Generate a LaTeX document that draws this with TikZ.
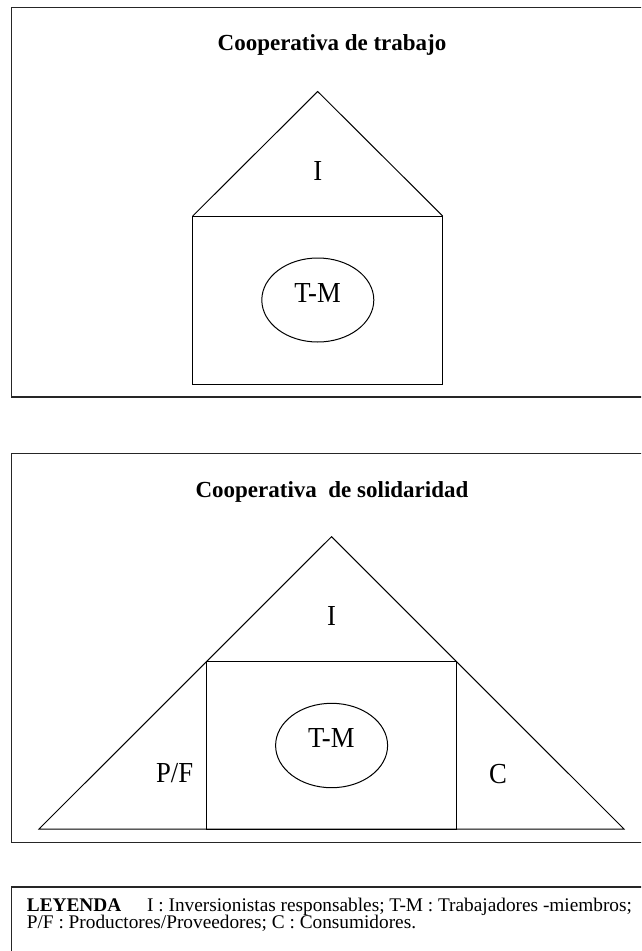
\documentclass[tikz,border=0pt]{standalone}
\usepackage{fontspec}
\setmainfont{Liberation Serif}
\usetikzlibrary{shapes.geometric}
\newcommand{\lbltext}[1]{\scalebox{0.92}[1]{#1}}
\begin{document}
\begin{tikzpicture}[x=1pt,y=-1pt,
  frame/.style={draw=black!85,line width=1.4pt},
  outline/.style={draw=black,line width=1pt,line join=miter},
  ttl/.style={font=\fontsize{23}{27}\selectfont\bfseries,anchor=base,inner sep=0pt},
  lbl/.style={font=\fontsize{29}{33}\selectfont,anchor=base,inner sep=0pt},
  leg/.style={font=\fontsize{19.3}{22}\selectfont,anchor=base west,inner sep=0pt},
  oval/.style={ellipse,draw=black,line width=1pt,inner sep=0pt}]
\useasboundingbox (0,0) rectangle (641,951);
\clip (0,0) rectangle (641,951);
\fill[white] (0,0) rectangle (641,951);
% top frame
\draw[frame] (11.5,7.5) rectangle (660,397);
\node[ttl] (t1) at (332,50) {Cooperativa de trabajo};
\coordinate (a1) at (317.7,91.5);
\coordinate (bl1) at (192.7,216);
\coordinate (br1) at (442.7,216);
\draw[outline] (bl1) -- (a1) -- (br1);
\draw[outline] (bl1) rectangle (442.7,384);
\node[oval,minimum width=112pt,minimum height=84pt] (e1) at (317.8,300) {};
\node[lbl] (i1) at (317.7,180.7) {\lbltext{I}};
\node[lbl] (tm1) at (317.5,302.7) {\lbltext{T-M}};
% bottom frame
\draw[frame] (11.5,453.3) rectangle (660,842.3);
\node[ttl] (t2) at (332,497) {Cooperativa\ \ de solidaridad};
\coordinate (a2) at (331.5,536.7);
\coordinate (bl2) at (39,829);
\coordinate (br2) at (624,829);
\draw[outline] (bl2) -- (a2) -- (br2) -- cycle;
\draw[outline] (206.4,661.7) rectangle (456.7,829);
\node[oval,minimum width=112pt,minimum height=84.4pt] (e2) at (331.6,745.5) {};
\node[lbl] (i2) at (331.5,625.7) {\lbltext{I}};
\node[lbl] (tm2) at (331.3,747.3) {\lbltext{T-M}};
\node[lbl] (pf) at (174.7,782.7) {\lbltext{P/F}};
\node[lbl] (c) at (498,783) {\lbltext{C}};
% legend
\draw[frame] (11.5,887) rectangle (660,1000);
\node[leg] (l1) at (26.7,911) {\textbf{LEYENDA}};
\node[leg] (l2) at (147,911) {I : Inversionistas responsables; T-M : Trabajadores -miembros;};
\node[leg] (l3) at (26.7,928.5) {P/F : Productores/Proveedores; C : Consumidores.};
\end{tikzpicture}
\end{document}
